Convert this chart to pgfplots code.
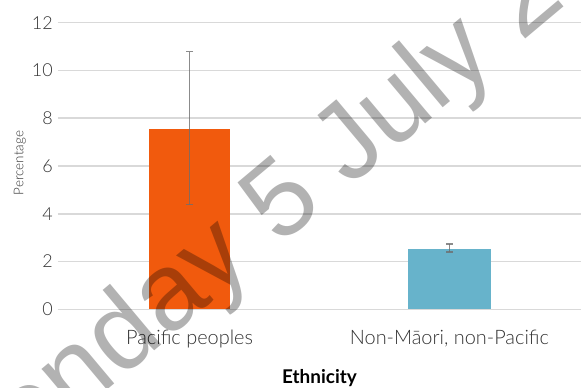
\documentclass[border=0pt]{standalone}
\usepackage{pgfplots}
\pgfplotsset{compat=1.18}
\usepackage{fontspec}
\setmainfont{Lato}
\newfontfamily\lightfont{Lato Light}
\newfontfamily\wmfont{Liberation Sans}
\definecolor{barorange}{HTML}{F15A0D}
\definecolor{barblue}{HTML}{67B3CB}
\definecolor{gridgrey}{HTML}{D9D9D9}
\definecolor{errgrey}{HTML}{6E6E6E}
\definecolor{txt}{HTML}{333333}
\begin{document}
\begin{tikzpicture}
\path[use as bounding box] (-58bp,-78.7bp) rectangle (523bp,309.3bp);
\clip (-58bp,-78.7bp) rectangle (523bp,309.3bp);
\begin{axis}[
  at={(0bp,0bp)}, anchor=south west,
  scale only axis, width=523bp, height=286.6bp,
  xmin=-0.506, xmax=1.506, ymin=0, ymax=12,
  axis line style={draw=none}, tick style={draw=none},
  ymajorgrids, grid style={color=gridgrey, line width=1.5bp},
  xtick={0,1}, xticklabels={Pacific peoples, {Non-Māori, non-Pacific}},
  ytick={0,2,...,12},
  /pgf/number format/assume math mode=true,
  yticklabel style={font=\lightfont\fontsize{18}{18}\selectfont, text=txt, inner sep=0pt, anchor=east, xshift=-5bp},
  xticklabel style={font=\lightfont\fontsize{20}{20}\selectfont, text=txt, inner sep=0pt, anchor=north, yshift=-21bp},
  xlabel={Ethnicity},
  xlabel style={at={(axis description cs:0.5,0)}, anchor=base, yshift=-73.7bp, font=\bfseries\fontsize{19}{19}\selectfont, text=black},
  ylabel={Percentage},
  ylabel style={at={(axis description cs:-0.0727,0.51)}, anchor=center, font=\lightfont\fontsize{13.5}{13.5}\selectfont, text=txt},
  clip=false,
]
% bars (estimate)
\addplot[ybar, bar width=81bp, bar shift=0pt, fill=barorange, draw=none]
  coordinates {(0,7.55)};
\addplot[ybar, bar width=83bp, bar shift=0pt, fill=barblue, draw=none]
  coordinates {(1,2.53)};
% confidence intervals (lower, upper)
\addplot[draw=errgrey, draw opacity=0.8, line width=1.6bp, mark=none, forget plot]
  coordinates {(0,4.38) (0,10.79)};
\addplot[draw=errgrey, draw opacity=0.8, line width=1.6bp, mark=none, forget plot]
  coordinates {(1,2.39) (1,2.73)};
\addplot[only marks, mark=-, mark size=3.5bp, mark options={draw=errgrey, draw opacity=0.8, line width=1.6bp}, forget plot]
  coordinates {(0,4.38) (0,10.79) (1,2.39) (1,2.73)};
\end{axis}
\node[anchor=base west, rotate=40, inner sep=0pt, opacity=0.3, text=black,
  font=\wmfont\fontsize{110}{110}\selectfont] at (-101bp,-207bp) {Monday 5 July 2021};
\end{tikzpicture}
\end{document}
